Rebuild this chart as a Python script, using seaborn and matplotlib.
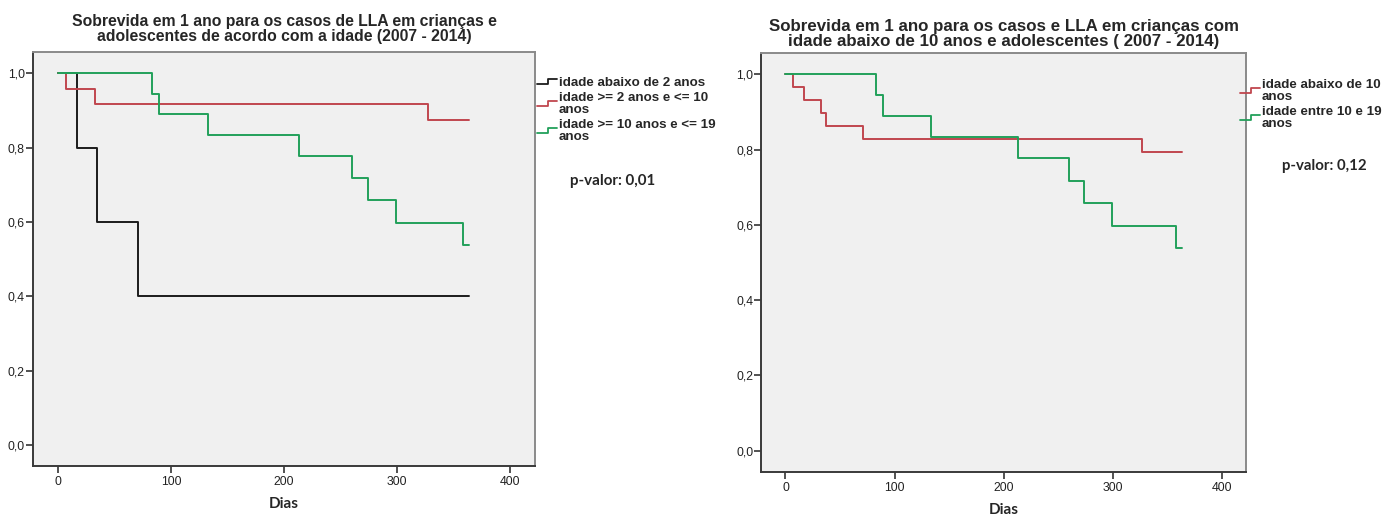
import matplotlib
matplotlib.use("Agg")
import matplotlib.pyplot as plt
import seaborn as sns
import pandas as pd
from matplotlib.legend_handler import HandlerBase
from matplotlib.lines import Line2D
from matplotlib.ticker import FuncFormatter

# ---------------- data ----------------
# Left panel
t_lt2 = [0, 17, 35, 71, 364]
s_lt2 = [1.0, 0.8, 0.6, 0.4, 0.4]
t_2_10 = [0, 7, 33, 327, 364]
s_2_10 = [1.0, 0.958, 0.917, 0.875, 0.875]
t_10_19 = [0, 83, 89, 133, 213, 260, 274, 299, 358, 364]
s_10_19 = [1.0, 0.944, 0.889, 0.833, 0.778, 0.718, 0.658, 0.598, 0.538, 0.538]
# Right panel
t_lt10 = [0, 7, 17, 33, 37, 71, 327, 364]
s_lt10 = [1.0, 0.966, 0.931, 0.897, 0.862, 0.828, 0.793, 0.793]

left_labels = ["idade abaixo de 2 anos",
               "idade >= 2 anos e <= 10\nanos",
               "idade >= 10 anos e <= 19\nanos"]
right_labels = ["idade abaixo de 10\nanos",
                "idade entre 10 e 19\nanos"]
title_left = "Sobrevida em 1 ano para os casos de LLA em crianças e\nadolescentes de acordo com a idade (2007 - 2014)"
title_right = "Sobrevida em 1 ano para os casos e LLA em crianças com\nidade abaixo de 10 anos e adolescentes ( 2007 - 2014)"
pval_left = "p-valor: 0,01"
pval_right = "p-valor: 0,12"
x_ticks = [0, 100, 200, 300, 400]
y_ticks = [0.0, 0.2, 0.4, 0.6, 0.8, 1.0]

C_BLACK = "#1c1c1c"
C_RED = "#C0464E"
C_GREEN = "#22A05A"

sns.set_theme(style="ticks")
plt.rcParams["font.family"] = ["Liberation Sans", "DejaVu Sans"]

fig = plt.figure(figsize=(14, 5.17), dpi=100)
axL = fig.add_axes([0.0236, 0.0986, 0.3586, 0.8007])
axR = fig.add_axes([0.5439, 0.0870, 0.3459, 0.8105])


class StepHandler(HandlerBase):
    def create_artists(self, legend, orig_handle, xdescent, ydescent,
                       width, height, fontsize, trans):
        w, h = width, height
        xs = [-xdescent, -xdescent + 0.55 * w, -xdescent + 0.55 * w, -xdescent + w]
        ys = [-ydescent + 0.3 * h, -ydescent + 0.3 * h, -ydescent + 0.75 * h, -ydescent + 0.75 * h]
        ln = Line2D(xs, ys, color=orig_handle.get_color(), lw=1.3)
        ln.set_transform(trans)
        return [ln]


def draw_panel(ax, series, labels, colors):
    handles = []
    for (t, s), lab, col in zip(series, labels, colors):
        df = pd.DataFrame({"t": t, "s": s})
        sns.lineplot(data=df, x="t", y="s", ax=ax, color=col, lw=1.4,
                     drawstyle="steps-post", estimator=None, sort=False)
        handles.append(Line2D([], [], color=col))
    ax.set_facecolor("#F0F0F0")
    ax.set_xlim(-22, 422)
    ax.set_ylim(-0.057, 1.057)
    ax.set_xticks(x_ticks)
    ax.set_yticks(y_ticks)
    ax.yaxis.set_major_formatter(FuncFormatter(lambda v, p: f"{v:.1f}".replace(".", ",")))
    ax.tick_params(axis="both", direction="out", length=5, width=1.2,
                   color="#333333", labelsize=8.8, labelcolor="#222222", pad=2)
    ax.tick_params(axis="y", pad=1)
    for side in ["left", "bottom"]:
        ax.spines[side].set_color("#3a3a3a")
        ax.spines[side].set_linewidth(1.4)
    for side in ["top", "right"]:
        ax.spines[side].set_color("#8a8a8a")
        ax.spines[side].set_linewidth(1.4)
    ax.set_ylabel("")
    ax.set_xlabel("Dias", fontsize=11, fontweight="bold", family=["Lato", "DejaVu Sans"],
                  labelpad=7)
    return handles


hL = draw_panel(axL, [(t_lt2, s_lt2), (t_2_10, s_2_10), (t_10_19, s_10_19)],
                left_labels, [C_BLACK, C_RED, C_GREEN])
hR = draw_panel(axR, [(t_lt10, s_lt10), (t_10_19, s_10_19)],
                right_labels, [C_RED, C_GREEN])

leg_kw = dict(loc="upper left", frameon=False, borderpad=0, borderaxespad=0,
              handlelength=1.5, handleheight=0.9, handletextpad=0.15, labelspacing=0.2,
              prop={"family": "Liberation Sans", "weight": "bold", "size": 9.6},
              handler_map={Line2D: StepHandler()})
legL = axL.legend(hL, left_labels, bbox_to_anchor=(1.003, 0.942), **leg_kw)
legR = axR.legend(hR, right_labels, bbox_to_anchor=(0.988, 0.938), **leg_kw)
for leg in (legL, legR):
    for txt in leg.get_texts():
        txt.set_linespacing(1.0)

axL.text(1.07, 0.688, pval_left, transform=axL.transAxes, ha="left", va="center",
         fontsize=10.9, fontweight="bold", family=["Lato", "DejaVu Sans"])
axR.text(1.075, 0.730, pval_right, transform=axR.transAxes, ha="left", va="center",
         fontsize=10.8, fontweight="bold", family=["Lato", "DejaVu Sans"])

axL.set_title(title_left, fontsize=11.3, fontweight="bold", pad=8, linespacing=1.0)
axR.set_title(title_right, fontsize=12.2, fontweight="bold", pad=5, linespacing=1.02)

fig.savefig("out.png", dpi=100, facecolor="white")
